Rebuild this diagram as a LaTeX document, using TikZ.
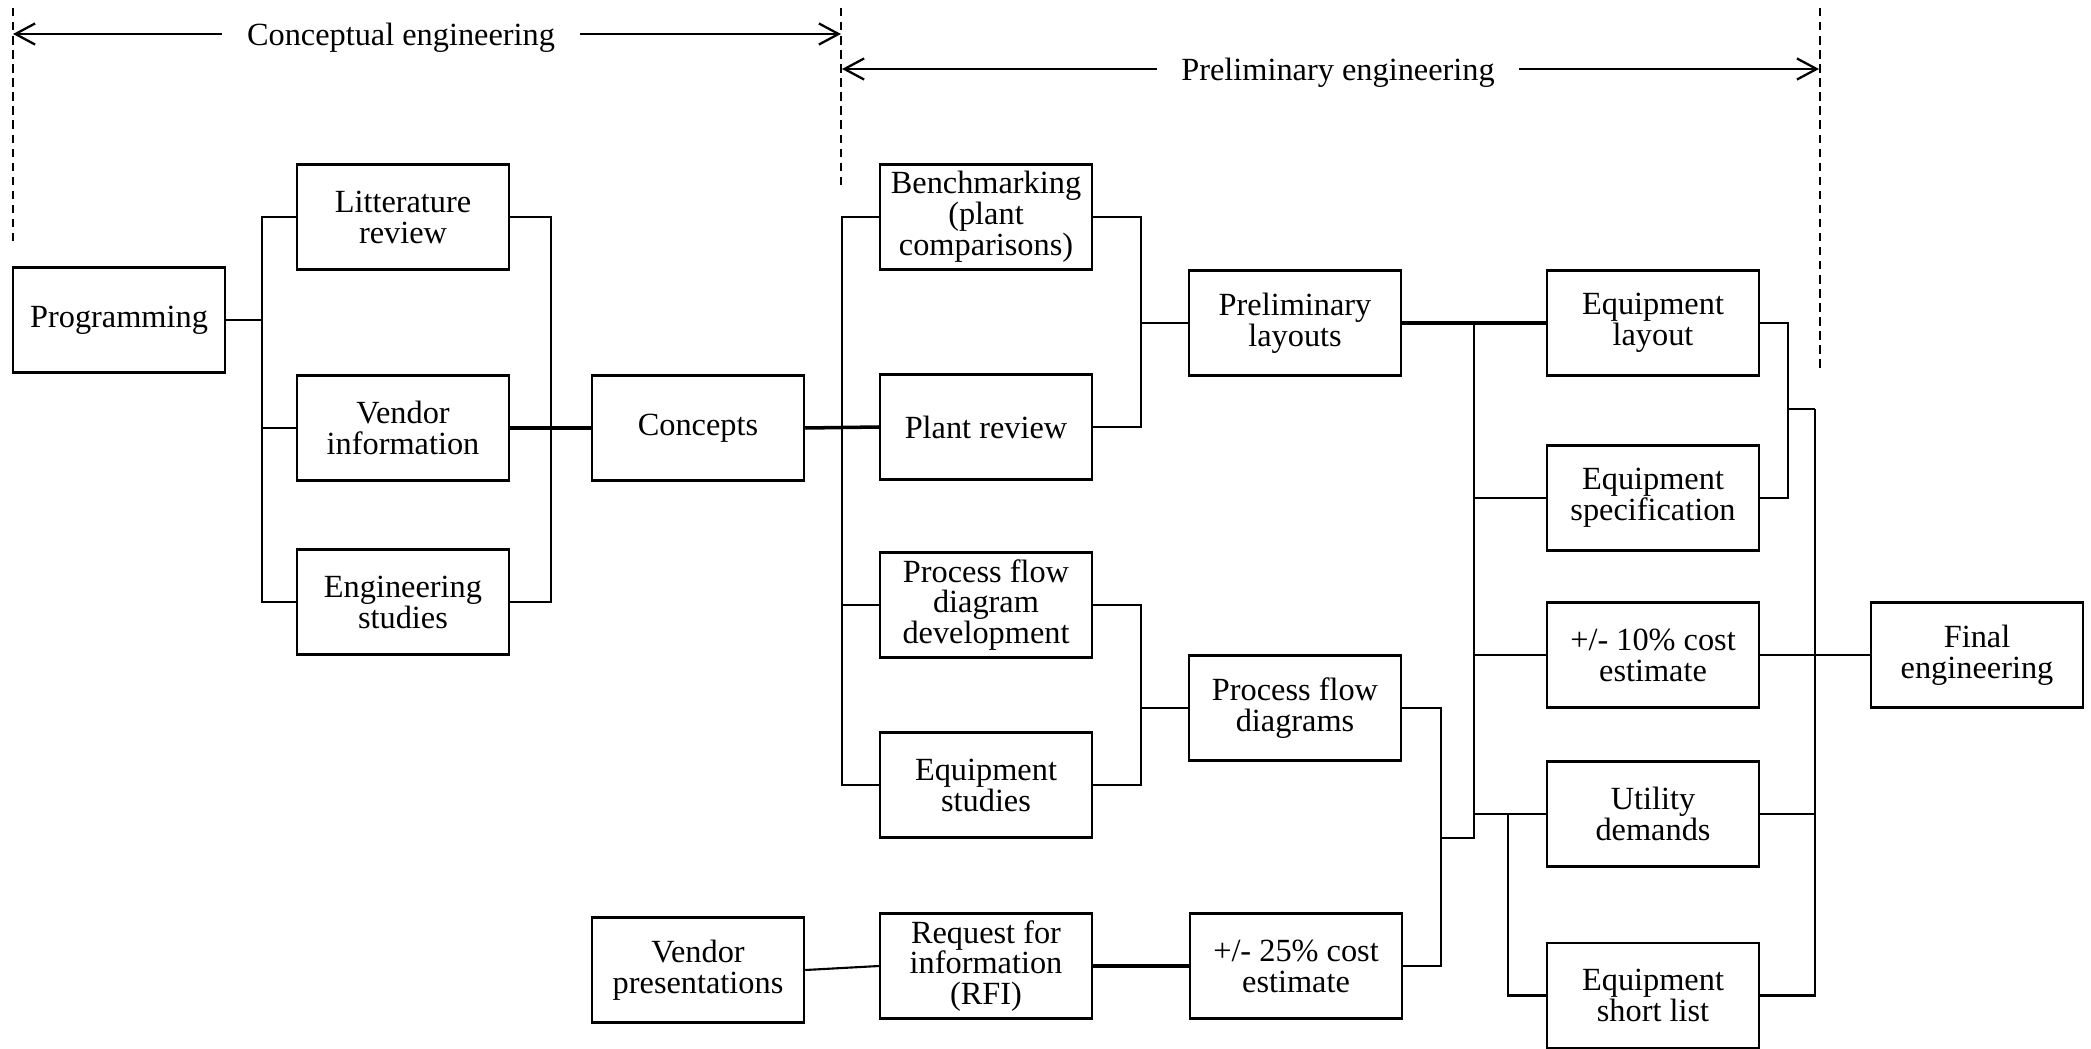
\documentclass[tikz,border=0pt]{standalone}
\usepackage{fontspec}
\setmainfont{Liberation Serif}
\usetikzlibrary{arrows.meta}

\begin{document}
\begin{tikzpicture}[
  x=1cm, y=1cm,
  txt/.style={font=\fontsize{9.2pt}{8.8pt}\selectfont},
  box/.style={txt, draw, line width=0.7pt, align=center, inner sep=0pt,
              minimum width=2.12cm, minimum height=1.05cm},
  link/.style={line width=0.6pt},
  heavy/.style={line width=1pt},
  phase/.style={line width=0.45pt, dash pattern=on 2.4pt off 1.6pt},
  span/.style={line width=0.65pt, arrows={-Straight Barb[length=5.6pt,width=6pt]}},
  spanlabel/.style={txt, anchor=base, inner xsep=0.24cm, inner ysep=0pt},
]
\useasboundingbox (0,0) rectangle (20.91,-10.48);

% phase boundaries
\draw[phase] (0.13,-0.08) -- (0.13,-2.42);
\draw[phase] (8.41,-0.08) -- (8.41,-1.90);
\draw[phase] (18.20,-0.08) -- (18.20,-3.72);

% phase spans
\coordinate (cl) at (0.13,-0.34);
\coordinate (cr) at (8.41,-0.34);
\node[spanlabel] (clab) at (4.01,-0.46) {Conceptual engineering};
\draw[span] (cl -| clab.west) -- (cl);
\draw[span] (cr -| clab.east) -- (cr);

\coordinate (pl) at (8.42,-0.69);
\coordinate (pr) at (18.19,-0.69);
\node[spanlabel] (plab) at (13.38,-0.80) {Preliminary engineering};
\draw[span] (pl -| plab.west) -- (pl);
\draw[span] (pr -| plab.east) -- (pr);

% activities
\node[box] (prog)   at (1.19,-3.20)  {Programming};
\node[box] (lit)    at (4.03,-2.17)  {Litterature\\review};
\node[box] (vend)   at (4.03,-4.28)  {Vendor\\information};
\node[box] (engs)   at (4.03,-6.02)  {Engineering\\studies};
\node[box] (conc)   at (6.98,-4.28)  {Concepts};
\node[box] (bench)  at (9.86,-2.17)  {Benchmarking\\(plant\\comparisons)};
\node[box] (plant)  at (9.86,-4.27)  {Plant review};
\node[box] (pfdd)   at (9.86,-6.05)  {Process flow\\diagram\\development};
\node[box] (eqs)    at (9.86,-7.85)  {Equipment\\studies};
\node[box] (prel)   at (12.95,-3.23) {Preliminary\\layouts};
\node[box] (pfd)    at (12.95,-7.08) {Process flow\\diagrams};
\node[box] (eql)    at (16.53,-3.23) {Equipment\\layout};
\node[box] (eqspec) at (16.53,-4.98) {Equipment\\specification};
\node[box] (c10)    at (16.53,-6.55) {+/- 10\% cost\\estimate};
\node[box] (util)   at (16.53,-8.14) {Utility\\demands};
\node[box] (esl)    at (16.53,-9.955) {Equipment\\short list};
\node[box] (fin)    at (19.77,-6.55) {Final\\engineering};
\node[box] (vpres)  at (6.98,-9.70)  {Vendor\\presentations};
\node[box] (rfi)    at (9.86,-9.66)  {Request for\\information\\(RFI)};
\node[box] (c25)    at (12.96,-9.66) {+/- 25\% cost\\estimate};

% bracket rails
\coordinate (b1) at (2.62,0);
\coordinate (b2) at (5.51,0);
\coordinate (b3) at (8.42,0);
\coordinate (b4) at (11.41,0);
\coordinate (b5) at (14.41,0);
\coordinate (b6) at (14.74,0);
\coordinate (b7) at (15.08,0);
\coordinate (b8) at (17.88,0);
\coordinate (b9) at (18.15,0);
\coordinate (j1) at (14.41,-8.38);
\coordinate (j2) at (17.88,-4.09);

% conceptual engineering
\draw[link] (prog.east) -- (prog.east -| b1);
\draw[link] (lit.west) -| (b1 |- engs.west) -- (engs.west);
\draw[link] (vend.west) -- (vend.west -| b1);
\draw[link] (lit.east) -| (b2 |- engs.east) -- (engs.east);
\draw[heavy] (vend.east) -- (conc.west);

% preliminary engineering
\draw[link] (bench.west) -| (b3 |- eqs.west) -- (eqs.west);
\draw[link] (pfdd.west) -- (pfdd.west -| b3);
\draw[heavy] (conc.east) -- (plant.west);
\draw[link] (bench.east) -| (b4 |- plant.east) -- (plant.east);
\draw[link] (prel.west) -- (prel.west -| b4);
\draw[link] (pfdd.east) -| (b4 |- eqs.east) -- (eqs.east);
\draw[link] (pfd.west) -- (pfd.west -| b4);

% cost estimate and process flow feed
\draw[link] (vpres.east) -- (rfi.west);
\draw[heavy] (rfi.east) -- (c25.west);
\draw[link] (pfd.east) -| (b5 |- c25.east) -- (c25.east);

% distribution to the equipment column
\draw[heavy] (prel.east) -- (eql.west);
\draw[link] (b6 |- prel.east) |- (j1);
\draw[link] (eqspec.west) -- (eqspec.west -| b6);
\draw[link] (c10.west) -- (c10.west -| b6);
\draw[link] (util.west) -- (util.west -| b6);
\draw[link] (util.west -| b7) |- (esl.west);

% collection into final engineering
\draw[link] (eql.east) -| (b8 |- eqspec.east) -- (eqspec.east);
\draw[link] (j2) -- (j2 -| b9);
\draw[link] (j2 -| b9) |- (esl.east);
\draw[link] (c10.east) -- (fin.west);
\draw[link] (util.east) -- (util.east -| b9);
\end{tikzpicture}
\end{document}
